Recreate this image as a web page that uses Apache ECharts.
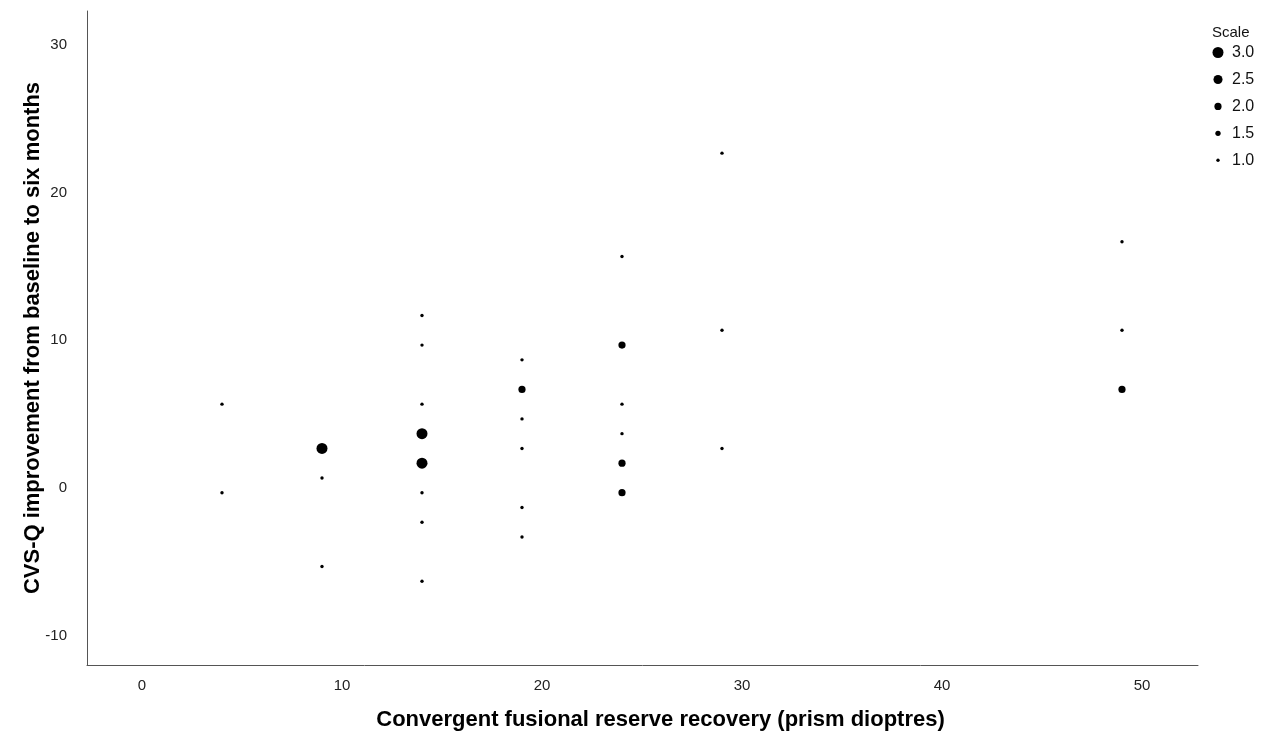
<!DOCTYPE html>
<html>
<head>
<meta charset="utf-8">
<script src="https://cdn.jsdelivr.net/npm/echarts@6/dist/echarts.min.js"></script>
<style>html,body{margin:0;padding:0;background:#fff}#c{width:1263px;height:740px}</style>
</head>
<body>
<div id="c"></div>
<script>
const xValues = [4,4, 9,9,9, 14,14,14,14,14,14,14,14, 19,19,19,19,19,19, 24,24,24,24,24,24, 29,29,29, 49,49,49];
const yValues = [5.67,-0.33, 2.67,0.67,-5.33, 11.67,9.67,5.67,3.67,1.67,-0.33,-2.33,-6.33, 8.67,6.67,4.67,2.67,-1.33,-3.33, 15.67,9.67,5.67,3.67,1.67,-0.33, 22.67,10.67,2.67, 16.67,10.67,6.67];
const scaleValues = [1,1, 3,1,1, 1,1,1,3,3,1,1,1, 1,2,1,1,1,1, 1,2,1,1,2,2, 1,1,1, 1,1,2];
const scaleLevels = [3.0, 2.5, 2.0, 1.5, 1.0];
const xTicks = [0,10,20,30,40,50];
const yTicks = [-10,0,10,20,30];
const xTitle = 'Convergent fusional reserve recovery (prism dioptres)';
const yTitle = 'CVS-Q improvement from baseline to six months';

const FONT = "'Liberation Sans', Arial, sans-serif";
const sizeOf = s => 3.4 + (s - 1) * 3.8;
const dotColor = '#000';

const series = scaleLevels.map(lv => ({
  name: lv.toFixed(1),
  type: 'scatter',
  symbol: 'circle',
  symbolSize: sizeOf(lv),
  itemStyle: { color: dotColor, opacity: 1 },
  data: xValues.map((x, i) => [x, yValues[i], scaleValues[i]]).filter(d => d[2] === lv).map(d => [d[0], d[1]])
}));

const cx = 1218, cy0 = 50, dy = 26;
const legends = scaleLevels.map((lv, k) => {
  const w = sizeOf(lv);
  return {
    data: [lv.toFixed(1)],
    selectedMode: false,
    orient: 'vertical',
    left: cx - w / 2,
    top: cy0 + k * dy - w / 2,
    padding: 0,
    itemWidth: w,
    itemHeight: w,
    icon: 'circle',
    itemStyle: { opacity: 1 },
    textStyle: { fontFamily: FONT, fontSize: 16, color: '#111', padding: [0, 0, 0, 9 - w / 2] }
  };
});

const chart = echarts.init(document.getElementById('c'));
chart.setOption({
  backgroundColor: '#fff',
  animation: false,
  title: {
    text: 'Scale', left: 1212, top: 25, padding: 0,
    textStyle: { fontFamily: FONT, fontSize: 15, fontWeight: 'normal', color: '#111' }
  },
  legend: legends,
  grid: { left: 87, right: 65, top: 11, bottom: 75 },
  xAxis: {
    type: 'value', min: -2.75, max: 52.8,
    name: xTitle, nameLocation: 'middle', nameGap: 44, nameMoveOverlap: false,
    nameTextStyle: { fontFamily: FONT, fontSize: 22, fontWeight: 'bold', color: '#000', padding: [0, 0, 0, 36] },
    axisLine: { show: true, onZero: false, lineStyle: { color: '#555', width: 1 } },
    axisTick: { show: false },
    splitLine: { show: false },
    axisLabel: { customValues: xTicks, margin: 13, fontFamily: FONT, fontSize: 15, color: '#222' }
  },
  yAxis: {
    type: 'value', min: -12, max: 32.3,
    name: yTitle, nameLocation: 'middle', nameGap: 43, nameMoveOverlap: false,
    nameTextStyle: { fontFamily: FONT, fontSize: 22, fontWeight: 'bold', color: '#000' },
    axisLine: { show: true, onZero: false, lineStyle: { color: '#555', width: 1 } },
    axisTick: { show: false },
    splitLine: { show: false },
    axisLabel: { customValues: yTicks, margin: 20, fontFamily: FONT, fontSize: 15, color: '#222' }
  },
  series: series
});
</script>
</body>
</html>
